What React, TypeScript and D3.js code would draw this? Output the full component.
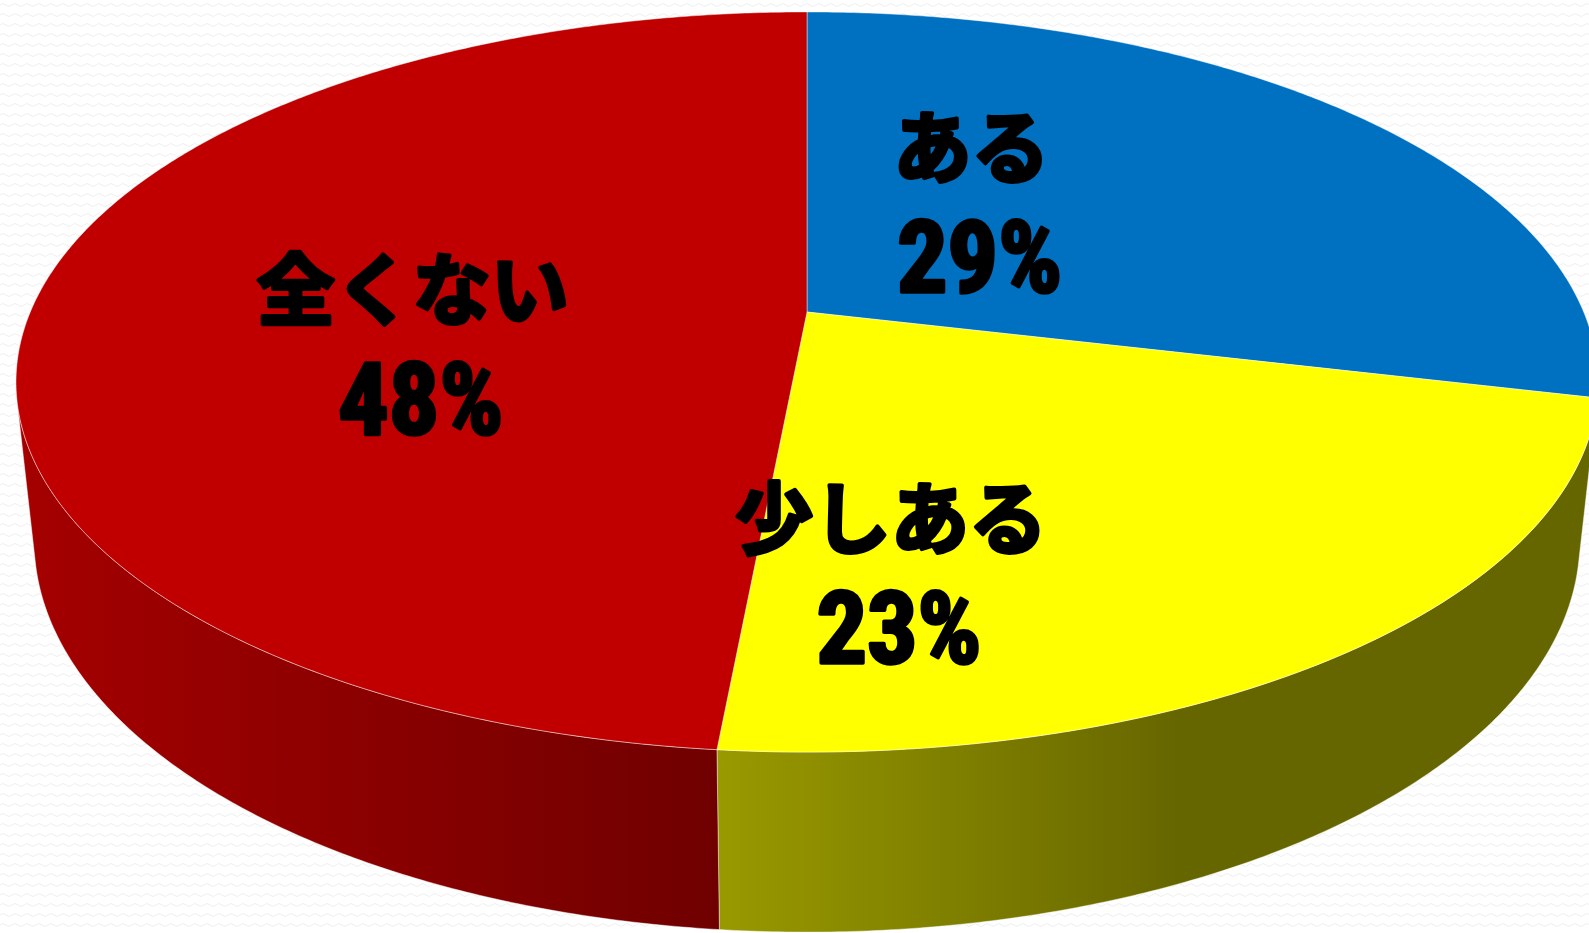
import React, { useEffect, useRef } from 'react';
import * as d3 from 'd3';

// slice data (clockwise from 12 o'clock)
const categories = ['ある', '少しある', '全くない'];
const values = [28.7, 22.8, 48.5];
const pctLabels = ['29%', '23%', '48%'];

const topColors = ['#0070C0', '#FFFF00', '#C00000'];
const sideColors = [
  ['#00558f', '#003f6b'],
  ['#999900', '#666600'],
  ['#a50000', '#700000'],
];
// x range of the side shading for each slice
const sideShadeX = [
  [1400, 1589],
  [717, 1180],
  [16, 717],
];
// label anchor on the top face: angle (deg) and radius fraction
const labelAngle = [34.5, 171, 260.8];
const labelRadius = [0.41, 0.644, 0.5];

const W = 1589;
const H = 933;

// perspective camera for the disk
const cx = 807;
const cy = 312;
const A = 776.7;
const sinPhi = 0.4594;
const cosPhi = Math.sqrt(1 - sinPhi * sinPhi);
const B = A * sinPhi;
const k = 0.1892;
const m = (sinPhi / cosPhi) * k;
const thick = 0.232;
// side wall faces the camera where cos(theta) < zVis
const zVis = -k / (cosPhi * cosPhi);

function project(theta: number, r: number, depth: number): [number, number] {
  const X = r * Math.sin(theta);
  const Z = r * Math.cos(theta);
  const w = 1 + k * Z + m * depth;
  return [cx + (A * X) / w, cy + (A * cosPhi * depth - B * Z) / w];
}

function arcPts(a0: number, a1: number, depth: number): [number, number][] {
  const n = Math.max(2, Math.ceil(Math.abs(a1 - a0) / 0.008));
  const s = d3.scaleLinear().domain([0, n]).range([a0, a1]);
  return d3.range(n + 1).map((i) => project(s(i), 1, depth));
}

const App: React.FC = () => {
  const svgRef = useRef<SVGSVGElement>(null);

  useEffect(() => {
    if (!svgRef.current) return;
    const svg = d3.select(svgRef.current);
    svg.selectAll('*').remove();

    const defs = svg.append('defs');

    // faint wavy paper texture
    const pat = defs.append('pattern')
      .attr('id', 'bgwave')
      .attr('width', 12).attr('height', 10)
      .attr('patternUnits', 'userSpaceOnUse');
    pat.append('path')
      .attr('d', 'M0 5 Q3 2 6 5 T12 5')
      .attr('fill', 'none')
      .attr('stroke', '#efefef')
      .attr('stroke-width', 1);

    svg.append('rect').attr('width', W).attr('height', H).attr('fill', '#fff');
    svg.append('rect').attr('width', W).attr('height', H).attr('fill', 'url(#bgwave)');

    const arcs = d3.pie<number>().sort(null).startAngle(0).endAngle(2 * Math.PI)(values);

    arcs.forEach((a, i) => {
      const g = defs.append('linearGradient')
        .attr('id', `side${i}`)
        .attr('gradientUnits', 'userSpaceOnUse')
        .attr('x1', sideShadeX[i][0]).attr('x2', sideShadeX[i][1])
        .attr('y1', 0).attr('y2', 0);
      g.append('stop').attr('offset', '0%').attr('stop-color', sideColors[i][0]);
      g.append('stop').attr('offset', '100%').attr('stop-color', sideColors[i][1]);
    });

    const line = d3.line<[number, number]>().curve(d3.curveLinearClosed);

    // visible part of the outer wall
    const visFrom = Math.acos(zVis);
    const visTo = 2 * Math.PI - visFrom;

    const walls = svg.append('g');
    arcs.forEach((a, i) => {
      const a0 = Math.max(a.startAngle, visFrom);
      const a1 = Math.min(a.endAngle, visTo);
      if (a1 <= a0) return;
      const pts = [...arcPts(a0, a1, 0), ...arcPts(a1, a0, thick)];
      walls.append('path')
        .attr('d', line(pts) || '')
        .attr('fill', `url(#side${i})`)
        .attr('stroke', 'rgba(255,255,255,0.55)')
        .attr('stroke-width', 0.8)
        .attr('stroke-linejoin', 'round');
    });

    // top faces
    const tops = svg.append('g');
    arcs.forEach((a, i) => {
      const pts: [number, number][] = [project(0, 0, 0), ...arcPts(a.startAngle, a.endAngle, 0)];
      tops.append('path')
        .attr('d', line(pts) || '')
        .attr('fill', topColors[i])
        .attr('stroke', 'rgba(255,255,255,0.55)')
        .attr('stroke-width', 0.8)
        .attr('stroke-linejoin', 'round');
    });

    // labels: name on the first line, percent on the second
    const labels = svg.append('g')
      .attr('font-weight', 700)
      .attr('fill', '#000')
      .attr('stroke', '#000')
      .attr('stroke-linejoin', 'round')
      .attr('paint-order', 'stroke')
      .attr('text-anchor', 'middle')
      .attr('dominant-baseline', 'central');
    categories.forEach((c, i) => {
      const [lx, ly] = project((labelAngle[i] * Math.PI) / 180, labelRadius[i], 0);
      const t = labels.append('text')
        .attr('transform', `translate(${lx},${ly})`);
      t.append('tspan')
        .attr('x', -5)
        .attr('y', -56)
        .attr('font-family', '"Noto Sans CJK JP", sans-serif')
        .attr('font-size', 78)
        .attr('stroke-width', 4)
        .text(c);
      t.append('tspan')
        .attr('x', 3)
        .attr('y', 58)
        .attr('font-family', '"Liberation Sans Narrow", "Roboto Condensed", "DejaVu Sans Condensed", sans-serif')
        .attr('font-size', 100)
        .attr('stroke-width', 3.5)
        .text(pctLabels[i]);
    });
  }, []);

  return (
    <div style={{ position: 'fixed', left: 0, top: 0, width: W, height: H, overflow: 'hidden', background: '#fff' }}>
      <svg ref={svgRef} width={W} height={H} style={{ display: 'block' }} />
    </div>
  );
};

export default App;
